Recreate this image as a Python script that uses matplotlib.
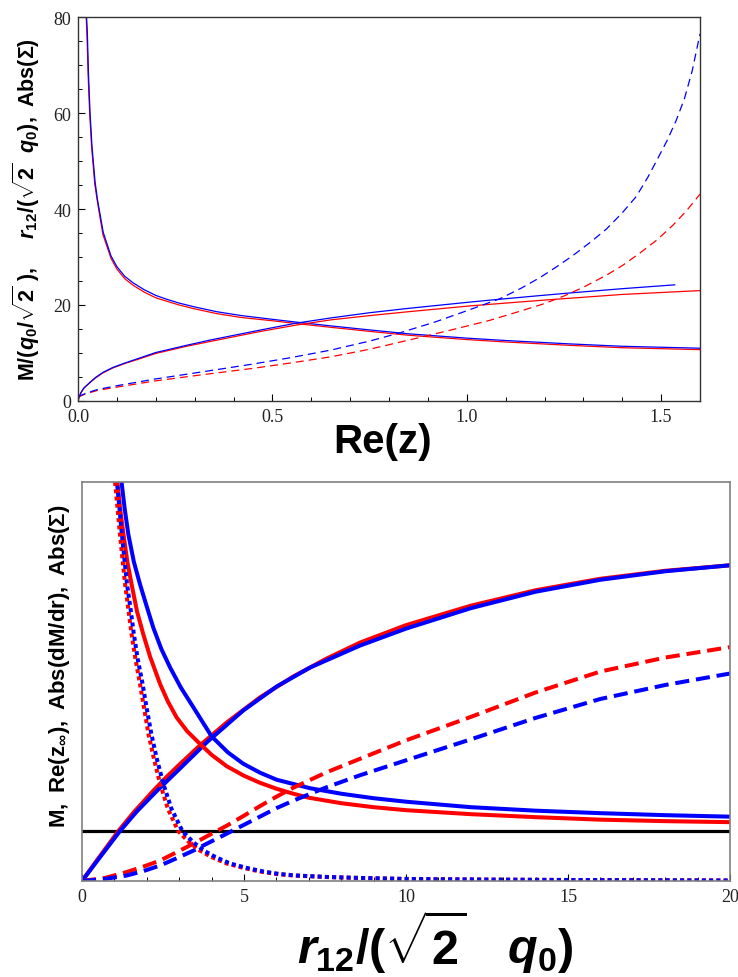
import matplotlib
matplotlib.use("Agg")
import matplotlib.pyplot as plt
from matplotlib.ticker import MultipleLocator, FormatStrFormatter

plt.rcParams["mathtext.fontset"] = "custom"
plt.rcParams["mathtext.rm"] = "Liberation Sans:bold"
plt.rcParams["mathtext.it"] = "Liberation Sans:bold:italic"
plt.rcParams["mathtext.bf"] = "Liberation Sans:bold"
plt.rcParams["mathtext.default"] = "rm"

# ---- top panel: values vs Re(z) ----
dec_blue_x = [0.022, 0.024, 0.027, 0.031, 0.036, 0.044, 0.05, 0.065, 0.085, 0.1, 0.12, 0.142, 0.17, 0.2,
              0.228, 0.26, 0.3, 0.357, 0.42, 0.502, 0.56, 0.656, 0.751, 0.85, 1.0, 1.1, 1.264, 1.4, 1.6]
dec_blue_y = [80, 76.8, 68, 60, 53, 45.6, 42.0, 35.1, 30.2, 28.0, 26.0, 24.6, 23.2, 22.0,
              21.2, 20.4, 19.6, 18.6, 17.8, 17.0, 16.45, 15.6, 14.8, 14.0, 13.1, 12.6, 11.9, 11.4, 11.0]
dec_red_x = [0.021, 0.023, 0.026, 0.030, 0.035, 0.043, 0.049, 0.064, 0.085, 0.1, 0.12, 0.142, 0.17, 0.2,
             0.228, 0.26, 0.3, 0.357, 0.42, 0.502, 0.56, 0.656, 0.751, 0.85, 1.0, 1.1, 1.264, 1.4, 1.6]
dec_red_y = [80, 76.5, 68, 60, 53, 45.3, 42.0, 34.7, 29.7, 27.5, 25.5, 24.1, 22.7, 21.5,
             20.8, 20.0, 19.2, 18.2, 17.4, 16.7, 16.15, 15.3, 14.5, 13.7, 12.8, 12.3, 11.6, 11.1, 10.7]

rise_blue_x = [0, 0.003, 0.008, 0.015, 0.031, 0.045, 0.065, 0.09, 0.12, 0.151, 0.2, 0.279, 0.34, 0.408,
               0.47, 0.56, 0.65, 0.751, 0.85, 1.007, 1.085, 1.18, 1.264, 1.4, 1.535]
rise_blue_y = [0, 0.9, 1.8, 2.7, 3.9, 4.9, 6.0, 7.0, 7.9, 8.75, 10.1, 11.6, 12.7, 13.8,
               14.8, 16.2, 17.3, 18.4, 19.3, 20.6, 21.2, 21.9, 22.5, 23.4, 24.2]
rise_red_x = [0, 0.003, 0.008, 0.015, 0.031, 0.045, 0.065, 0.09, 0.12, 0.151, 0.2, 0.279, 0.34, 0.408,
              0.47, 0.56, 0.65, 0.751, 0.85, 1.007, 1.085, 1.18, 1.264, 1.4, 1.6]
rise_red_y = [0, 0.9, 1.8, 2.65, 3.85, 4.8, 5.9, 6.9, 7.8, 8.6, 9.9, 11.4, 12.4, 13.5,
              14.5, 15.8, 16.9, 17.8, 18.6, 19.8, 20.3, 20.9, 21.4, 22.2, 23.0]

dash_blue_x = [0, 0.02, 0.05, 0.108, 0.2, 0.322, 0.45, 0.545, 0.65, 0.751, 0.828, 0.92, 1.0, 1.085, 1.14,
               1.188, 1.23, 1.273, 1.32, 1.359, 1.4, 1.436, 1.465, 1.488, 1.515, 1.539, 1.56, 1.58, 1.6]
dash_blue_y = [0.9, 1.6, 2.4, 3.3, 4.6, 6.1, 7.7, 9.0, 10.6, 12.5, 14.2, 16.5, 18.8, 21.3, 23.5,
               25.7, 27.9, 30.3, 33.2, 35.8, 39.2, 42.6, 46.5, 50.0, 54.2, 58.5, 63.0, 68.8, 76.5]
dash_red_x = [0, 0.02, 0.05, 0.108, 0.2, 0.322, 0.45, 0.545, 0.65, 0.751, 0.862, 0.96, 1.059, 1.145, 1.2,
              1.248, 1.3, 1.359, 1.4, 1.445, 1.49, 1.53, 1.565, 1.6]
dash_red_y = [0.8, 1.5, 2.2, 3.0, 4.2, 5.5, 6.8, 7.9, 9.2, 10.8, 12.9, 14.8, 16.8, 18.9, 20.3,
              21.8, 23.7, 26.2, 28.2, 30.8, 33.6, 36.6, 39.6, 43.1]

# ---- bottom panel: values vs r12/(sqrt2 q0) ----
m_red_x = [0, 0.5, 1.12, 1.6, 2.2, 2.6, 3.0, 3.64, 4.47, 5.49, 6.52, 7.55, 8.58, 10, 12, 14, 16, 18, 20]
m_red_y = [0, 0.45, 1.0, 1.38, 1.81, 2.08, 2.33, 2.72, 3.18, 3.68, 4.1, 4.46, 4.78, 5.13, 5.52, 5.83, 6.06, 6.22, 6.33]
m_blue_x = [0, 0.5, 1.17, 1.7, 2.3, 3.0, 3.85, 4.98, 6.01, 7.04, 8.58, 10, 12, 14, 16, 18, 20]
m_blue_y = [0, 0.43, 1.0, 1.4, 1.8, 2.24, 2.78, 3.42, 3.9, 4.28, 4.72, 5.06, 5.47, 5.8, 6.04, 6.21, 6.33]

rez_red_x = [1.09, 1.18, 1.28, 1.4, 1.53, 1.7, 1.89, 2.1, 2.41, 2.65, 2.92, 3.25, 3.64, 4.0, 4.47,
             5.0, 5.49, 6.0, 6.52, 7.0, 8.0, 9.0, 10, 12, 14, 16, 18, 20]
rez_red_y = [8.0, 7.45, 6.95, 6.4, 5.95, 5.4, 4.95, 4.5, 3.95, 3.6, 3.28, 3.0, 2.75, 2.53, 2.30,
             2.11, 1.97, 1.85, 1.75, 1.67, 1.56, 1.48, 1.42, 1.34, 1.28, 1.23, 1.2, 1.18]
rez_blue_x = [1.22, 1.32, 1.43, 1.6, 1.79, 2.0, 2.2, 2.45, 2.72, 3.05, 3.44, 4.0, 4.5, 4.98,
              5.5, 6.01, 7.04, 8.0, 9.0, 10, 12, 14, 16, 18, 20]
rez_blue_y = [8.0, 7.45, 6.95, 6.4, 5.95, 5.5, 5.08, 4.65, 4.28, 3.88, 3.48, 2.9, 2.58, 2.35,
              2.17, 2.03, 1.86, 1.75, 1.66, 1.59, 1.48, 1.41, 1.36, 1.32, 1.29]

dmdr_red_x = [1.02, 1.1, 1.17, 1.25, 1.33, 1.43, 1.53, 1.65, 1.79, 1.92, 2.05, 2.22, 2.41, 2.65, 2.97,
              3.3, 3.64, 4.0, 4.47, 5.0, 5.49, 6.0, 6.52, 7.5, 8.58, 10, 12, 15, 20]
dmdr_red_y = [8.0, 7.45, 6.95, 6.45, 5.95, 5.45, 4.95, 4.45, 3.95, 3.45, 2.95, 2.45, 1.95, 1.45, 1.0,
              0.78, 0.61, 0.48, 0.35, 0.26, 0.19, 0.14, 0.11, 0.08, 0.06, 0.04, 0.03, 0.02, 0.01]
dmdr_blue_x = [1.08, 1.16, 1.23, 1.31, 1.39, 1.5, 1.6, 1.72, 1.87, 2.0, 2.14, 2.31, 2.51, 2.76, 3.1,
               3.43, 3.76, 4.12, 4.58, 5.1, 5.6, 6.1, 6.62, 7.6, 8.68, 10.1, 12.1, 15.1, 20]
dmdr_blue_y = dmdr_red_y

sig_red_x = [0, 0.7, 1.38, 1.9, 2.41, 2.9, 3.44, 3.95, 4.47, 5.0, 5.49, 6.0, 6.52, 7.55, 8.58, 10, 12, 14, 16, 18, 20]
sig_red_y = [0, 0.06, 0.18, 0.29, 0.41, 0.57, 0.75, 0.93, 1.11, 1.31, 1.5, 1.69, 1.87, 2.18, 2.45, 2.82,
             3.29, 3.78, 4.2, 4.48, 4.69]
sig_blue_x = [0, 0.7, 1.38, 1.9, 2.41, 2.9, 3.44, 3.95, 4.47, 4.98, 5.49, 6.0, 6.52, 7.55, 8.58, 10, 12, 14, 16, 18, 20]
sig_blue_y = [0, 0.04, 0.11, 0.2, 0.31, 0.45, 0.61, 0.78, 0.95, 1.12, 1.29, 1.46, 1.61, 1.88, 2.12, 2.42,
              2.84, 3.27, 3.65, 3.93, 4.16]

m_level = 1.0

RED = "#ff0000"
BLUE = "#0000ff"

fig = plt.figure(figsize=(7.38, 9.78), dpi=100)

# top panel
ax1 = fig.add_axes([78 / 738, 1 - 402 / 978, 622 / 738, 384 / 978])
lw = 0.9
ax1.plot(dec_red_x, dec_red_y, color=RED, lw=lw)
ax1.plot(dec_blue_x, dec_blue_y, color=BLUE, lw=lw)
ax1.plot(rise_red_x, rise_red_y, color=RED, lw=lw)
ax1.plot(rise_blue_x, rise_blue_y, color=BLUE, lw=lw)
ax1.plot(dash_red_x, dash_red_y, color=RED, lw=lw, linestyle=(0, (6.4, 4)))
ax1.plot(dash_blue_x, dash_blue_y, color=BLUE, lw=lw, linestyle=(0, (6.4, 4)))
ax1.set_xlim(0, 1.6)
ax1.set_ylim(0, 80)
ax1.xaxis.set_major_locator(MultipleLocator(0.5))
ax1.xaxis.set_minor_locator(MultipleLocator(0.1))
ax1.xaxis.set_major_formatter(FormatStrFormatter("%.1f"))
ax1.yaxis.set_major_locator(MultipleLocator(20))
ax1.yaxis.set_minor_locator(MultipleLocator(5))
ax1.set_ylabel(r"$M/(\mathit{q}_0/\sqrt{2}\ ),\ \ \ \ \mathit{r}_{12}/(\sqrt{2}\ \ \mathit{q}_0),\ Abs(\Sigma)$",
               fontsize=15.5)
ax1.yaxis.set_label_coords(-0.058, 0.5)
ax1.set_xlabel("Re(z)", fontsize=29, fontweight="bold", family="Liberation Sans")
ax1.xaxis.set_label_coords(0.49, -0.055)
for s in ax1.spines.values():
    s.set_color("#333333")
    s.set_linewidth(1.0)

# bottom panel
ax2 = fig.add_axes([82 / 738, 1 - 882 / 978, 648 / 738, 399 / 978])
LW = 2.9
ax2.axhline(m_level, color="black", lw=2.3)
ax2.plot(m_red_x, m_red_y, color=RED, lw=LW)
ax2.plot(m_blue_x, m_blue_y, color=BLUE, lw=LW)
ax2.plot(rez_red_x, rez_red_y, color=RED, lw=LW)
ax2.plot(rez_blue_x, rez_blue_y, color=BLUE, lw=LW)
ax2.plot(sig_red_x, sig_red_y, color=RED, lw=LW, linestyle=(0, (3.5, 1.7)))
ax2.plot(sig_blue_x, sig_blue_y, color=BLUE, lw=LW, linestyle=(0, (3.5, 1.7)))
ax2.plot(dmdr_red_x, dmdr_red_y, color=RED, lw=LW, linestyle=(0, (1.0, 0.8)))
ax2.plot(dmdr_blue_x, dmdr_blue_y, color=BLUE, lw=LW, linestyle=(0.9, (1.0, 0.8)))
ax2.set_xlim(0, 20)
ax2.set_ylim(0, 8)
ax2.xaxis.set_major_locator(MultipleLocator(5))
ax2.xaxis.set_minor_locator(MultipleLocator(1))
ax2.set_yticks([])
ax2.set_ylabel(r"$M,\ Re(z_\infty),\ Abs(dM/dr),\ Abs(\Sigma)$", fontsize=16)
ax2.yaxis.set_label_coords(-0.016, 0.54)
ax2.set_xlabel(r"$\mathit{r}_{12}/(\sqrt{2}\ \ \ \mathit{q}_0)$", fontsize=35)
ax2.xaxis.set_label_coords(0.545, -0.065)
for s in ax2.spines.values():
    s.set_color("#808080")
    s.set_linewidth(1.2)

for ax in (ax1, ax2):
    ax.tick_params(which="both", direction="in", top=False, right=False,
                   labelsize=13, labelcolor="#222222", pad=5)
    ax.tick_params(which="major", length=5, width=0.8)
    ax.tick_params(which="minor", length=3, width=0.7)
    for lab in ax.get_xticklabels() + ax.get_yticklabels():
        lab.set_family("Liberation Serif")

fig.savefig("out.png", dpi=100)
